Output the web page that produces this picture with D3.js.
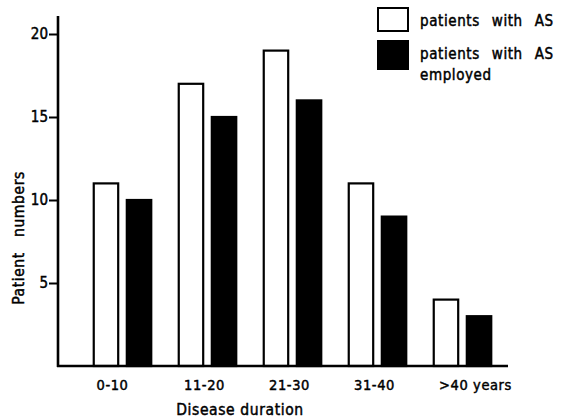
<!DOCTYPE html>
<html>
<head>
<meta charset="utf-8">
<script src="https://cdn.jsdelivr.net/npm/d3@7"></script>
<style>
  body { margin: 0; background: #fff; }
  svg { font-family: "DejaVu Sans Condensed", "DejaVu Sans", sans-serif; }
  svg text { stroke: #000; stroke-width: 0.45px; fill: #000; }
</style>
</head>
<body>
<svg id="chart" width="564" height="418"></svg>
<script>
// data
const durations = ["0-10", "11-20", "21-30", "31-40", ">40 years"];
const patientsAS = [11, 17, 19, 11, 4];
const patientsEmployed = [10, 15, 16, 9, 3];
const yTicks = [5, 10, 15, 20];
const seriesNames = ["patients with AS", "patients with AS employed"];

const svg = d3.select("#chart");
const axisX = 58, baseY = 366;

const rows = durations.map((d, i) => ({
    dur: d,
    vals: [{ key: "all", v: patientsAS[i] }, { key: "emp", v: patientsEmployed[i] }]
}));

const x0 = d3.scaleBand()
    .domain(durations)
    .range([80, 505])
    .paddingInner(0.3)
    .paddingOuter(0.15);

const x1 = d3.scaleBand()
    .domain(["all", "emp"])
    .range([0, x0.bandwidth()])
    .paddingInner(0.2);

const y = d3.scaleLinear()
    .domain([0, 20])
    .range([baseY, 34]);

// bars
const groups = svg.selectAll("g.grp").data(rows).enter()
    .append("g")
    .attr("class", "grp")
    .attr("transform", d => `translate(${x0(d.dur)},0)`);

groups.selectAll("rect").data(d => d.vals).enter()
    .append("rect")
    .attr("x", d => x1(d.key) + 1)
    .attr("y", d => y(d.v))
    .attr("width", x1.bandwidth() - 2)
    .attr("height", d => y(0) - y(d.v))
    .attr("fill", d => d.key == "all" ? "#fff" : "#000")
    .attr("stroke", "#000")
    .attr("stroke-width", 2.2);

// y axis
const yAxis = d3.axisLeft(y).tickValues(yTicks).tickSize(9).tickPadding(1);
const yg = svg.append("g")
    .attr("transform", `translate(${axisX},0)`)
    .call(yAxis);
yg.select(".domain").remove();
yg.selectAll(".tick line").attr("stroke", "#000").attr("stroke-width", 2);
yg.selectAll(".tick text")
    .attr("font-size", 15)
    .attr("font-family", "DejaVu Sans Condensed");

svg.append("line")
    .attr("x1", axisX).attr("x2", axisX)
    .attr("y1", 16).attr("y2", baseY + 1)
    .attr("stroke", "#000").attr("stroke-width", 2.6);

// x axis
svg.append("line")
    .attr("x1", axisX - 1).attr("x2", 508)
    .attr("y1", baseY).attr("y2", baseY)
    .attr("stroke", "#000").attr("stroke-width", 2.6);

const xAxis = d3.axisBottom(x0).tickSize(0).tickPadding(14);
const xg = svg.append("g")
    .attr("transform", `translate(0,${baseY})`)
    .call(xAxis);
xg.select(".domain").remove();
xg.selectAll(".tick text")
    .attr("font-size", 14.5)
    .attr("font-family", "DejaVu Sans Condensed")
    .attr("letter-spacing", 0.6)
    .attr("dx", d => d == ">40 years" ? 13 : d == "0-10" ? -10 : -3);

// axis titles
svg.append("text")
    .text("Disease duration")
    .attr("x", 240)
    .attr("y", 415)
    .attr("text-anchor", "middle")
    .attr("font-size", 15.5)
    .attr("letter-spacing", 0.6);

svg.append("text")
    .text("Patient   numbers")
    .attr("transform", "rotate(-90)")
    .attr("x", -238)
    .attr("y", 24)
    .attr("text-anchor", "middle")
    .attr("font-size", 15.5)
    .attr("letter-spacing", 0.6)
    .style("white-space", "pre");

// legend
const leg = svg.append("g").attr("transform", "translate(378,8)");
leg.selectAll("rect").data(seriesNames).enter()
    .append("rect")
    .attr("x", 0)
    .attr("y", (d, i) => i * 33)
    .attr("width", 30)
    .attr("height", (d, i) => i ? 28 : 23)
    .attr("fill", (d, i) => i ? "#000" : "#fff")
    .attr("stroke", "#000")
    .attr("stroke-width", 2);

leg.append("text")
    .text(seriesNames[0])
    .attr("x", 42).attr("y", 18)
    .attr("font-size", 15)
    .attr("word-spacing", 7)
    .attr("letter-spacing", 0.6);
leg.append("text")
    .text("patients with AS")
    .attr("x", 42).attr("y", 51)
    .attr("font-size", 15)
    .attr("word-spacing", 7)
    .attr("letter-spacing", 0.6);
leg.append("text")
    .text("employed")
    .attr("x", 42).attr("y", 72)
    .attr("font-size", 15)
    .attr("letter-spacing", 0.6);
</script>
</body>
</html>
